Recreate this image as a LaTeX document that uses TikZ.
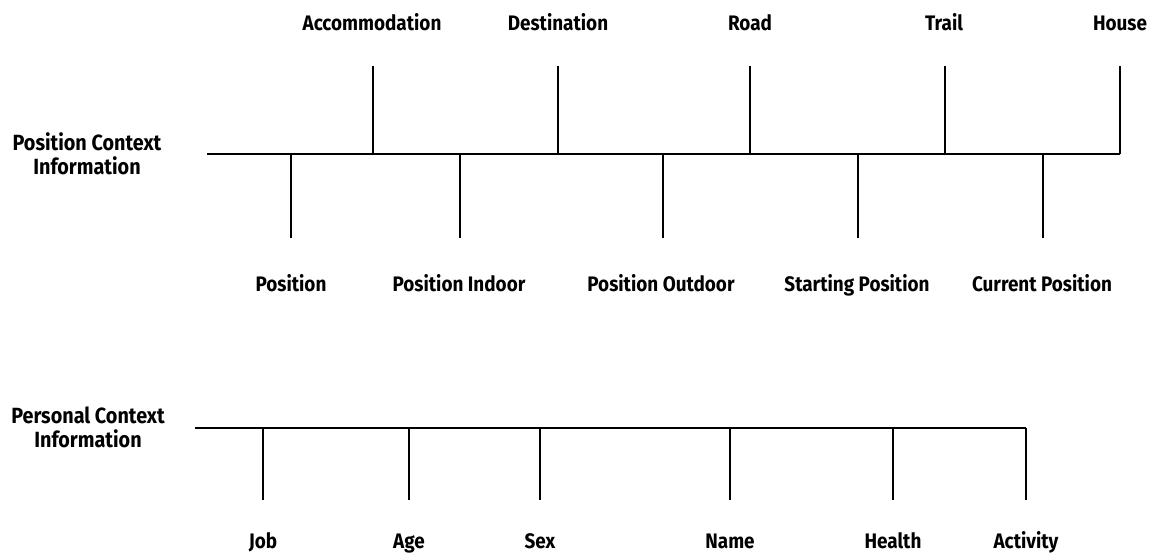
\documentclass[tikz,border=0pt]{standalone}
\usepackage{fontspec}
\setmainfont[FakeStretch=0.9]{Fira Sans}
\begin{document}
\begin{tikzpicture}[x=1pt,y=-1pt,
  lbl/.style={font=\fontsize{21}{25}\bfseries, inner sep=0pt, anchor=base},
  side/.style={font=\fontsize{22}{26}\bfseries, inner sep=0pt, anchor=base},
  tick/.style={line width=1.5pt},
  mainline/.style={line width=2.4pt},
  thinline/.style={line width=1.6pt}]
\useasboundingbox (0,0) rectangle (1151,553);
% ---- Position context ----
\node[side] (poslbl1) at (87,151) {Position Context};
\node[side] (poslbl2) at (87,175) {Information};
\coordinate (pstart) at (207,154);
\coordinate (pmid) at (945,154);
\coordinate (pend) at (1120,154);
\draw[mainline] (pstart) -- (pmid);
\draw[thinline] (pmid) -- (pend);
% upper ticks
\foreach \x/\n/\t in {372/accom/Accommodation, 558/dest/Destination, 750/road/Road, 944/trail/Trail, 1120/house/House}{
  \node[lbl] (\n) at (\x,31) {\t};
}
\foreach \x/\n in {373/accom, 558/dest, 750/road, 945/trail, 1120/house}{
  \coordinate (\n-top) at (\x,66);
  \coordinate (\n-base) at (\x,154);
  \draw[tick] (\n-base) -- (\n-top);
}
% lower ticks
\foreach \x/\n/\t in {291/pos/Position, 459/posin/Position Indoor, 661/posout/Position Outdoor, 857/start/Starting Position, 1042/cur/Current Position}{
  \node[lbl] (\n) at (\x,291) {\t};
}
\foreach \x/\n in {291/pos, 460/posin, 663/posout, 858/start, 1043/cur}{
  \coordinate (\n-bot) at (\x,238);
  \coordinate (\n-base) at (\x,154);
  \draw[tick] (\n-base) -- (\n-bot);
}
% ---- Personal context ----
\node[side] (perslbl1) at (88,423) {Personal Context};
\node[side] (perslbl2) at (88,447) {Information};
\coordinate (qstart) at (195,428);
\coordinate (qend) at (1026,428);
\draw[thinline] (qstart) -- (qend);
\foreach \x/\n/\t in {263/job/Job, 409/age/Age, 540/sex/Sex, 730/name/Name, 893/health/Health, 1026/act/Activity}{
  \node[lbl] (\n) at (\x,548) {\t};
  \coordinate (\n-bot) at (\x,500);
  \coordinate (\n-base) at (\x,428);
  \draw[tick] (\n-base) -- (\n-bot);
}
\end{tikzpicture}
\end{document}
